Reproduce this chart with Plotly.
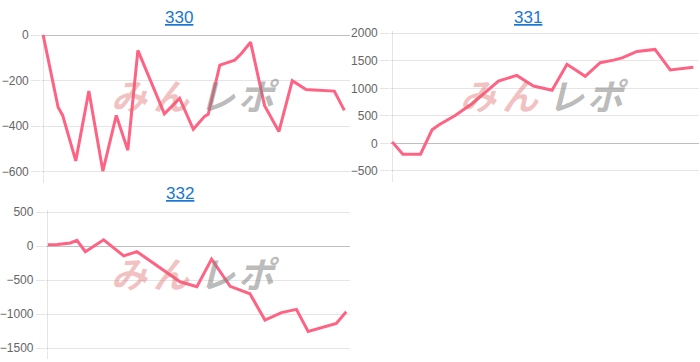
import plotly.graph_objects as go

# ---------------- data ----------------
titles = ["330", "331", "332"]

t330 = [0, 4.9, 6.4, 10.7, 15.0, 19.6, 24.0, 27.8, 31.1, 39.8, 44.8, 49.3, 53.0, 54.2,
        58.0, 62.9, 65.1, 68.1, 72.7, 77.4, 81.8, 86.3, 89.1, 95.6, 98.9]
v330 = [0, -317, -353, -553, -246, -598, -353, -506, -67, -346, -278, -414, -357, -348,
        -132, -110, -81, -31, -310, -424, -200, -239, -241, -246, -331]

t331 = [0, 3.5, 9.3, 13.1, 15.3, 20.8, 26.2, 34.9, 40.9, 46.4, 52.5, 57.4, 63.4, 68.3,
        72.7, 75.5, 80.4, 86.3, 91.3, 98.9]
v331 = [28, -195, -195, 247, 335, 512, 720, 1130, 1235, 1041, 964, 1435, 1218, 1465,
        1511, 1553, 1670, 1705, 1334, 1382]

t332 = [0, 3.1, 7.5, 9.7, 12.5, 18.6, 25.3, 29.7, 44.1, 49.7, 54.6, 60.8, 67.4, 72.4,
        77.9, 82.9, 86.8, 96.2, 99.5]
v332 = [19, 23, 47, 86, -81, 94, -143, -81, -524, -596, -191, -590, -700, -1086,
        -977, -929, -1253, -1135, -963]

y_ranges = [(-600, 0, 200), (-500, 2000, 500), (-1500, 500, 500)]

watermark_chars = ["み", "ん", "レ", "ポ"]

# ---------------- layout geometry (pixels) ----------------
W, H = 700, 362
# left px, right px, top px (ymax), bottom px (ymin)
boxes = [(41.3, 346.7, 31.0, 171.3),
         (391.3, 696.7, 29.0, 170.7),
         (46.0, 346.7, 213.0, 353.0)]
title_pos = [(178, 12.5), (528, 12.5), (178.5, 194)]
wm_offsets = [(0, 92), (350, 92), (0, 275)]
wm_x = [128, 170, 216, 258]

PAD = 2.0
LINE = "rgb(255,99,132)"
GRID = "rgba(0,0,0,0.1)"
ZERO = "rgba(0,0,0,0.25)"
FONT = "Arial, 'Liberation Sans', Helvetica, sans-serif"

fig = go.Figure()
series = [(t330, v330), (t331, v331), (t332, v332)]

layout = dict(
    width=W, height=H, margin=dict(l=0, r=0, t=0, b=0),
    paper_bgcolor="white", plot_bgcolor="white", showlegend=False,
    font=dict(family=FONT, size=12, color="#666"),
)
annotations = []

for i, ((ts, vs), (ymin, ymax, dt), (lx, rx, ty, by)) in enumerate(zip(series, y_ranges, boxes)):
    n = "" if i == 0 else str(i + 1)
    xa, ya = "x" + n, "y" + n
    fig.add_trace(go.Scatter(x=ts, y=vs, mode="lines", xaxis=xa, yaxis=ya,
                             line=dict(color=LINE, width=3), hoverinfo="skip"))
    xu = 100.0 / (rx - lx)
    ypx = (ymax - ymin) / (by - ty)
    layout["xaxis" + n] = dict(
        domain=[(lx - PAD) / W, (rx + PAD) / W],
        range=[0 - PAD * xu, 100 + PAD * xu],
        anchor=ya, tickvals=[0], showticklabels=False, showgrid=True,
        gridcolor=GRID, gridwidth=1, ticks="outside", ticklen=8, tickcolor=GRID,
        zeroline=False, showline=False, fixedrange=True,
    )
    layout["yaxis" + n] = dict(
        domain=[1 - (by + PAD) / H, 1 - (ty - PAD) / H],
        range=[ymin - PAD * ypx, ymax + PAD * ypx],
        anchor=xa, tick0=0, dtick=dt, showgrid=True, gridcolor=GRID, gridwidth=1,
        zeroline=True, zerolinecolor=ZERO, zerolinewidth=1,
        ticks="outside", ticklen=9, tickcolor=GRID, showline=False,
        tickfont=dict(family=FONT, size=12, color="#666"), fixedrange=True,
    )
    tx, tyy = title_pos[i]
    annotations.append(dict(
        text=titles[i], x=tx / W, y=1 - tyy / H, xref="paper", yref="paper",
        xanchor="center", yanchor="middle", showarrow=False,
        font=dict(family=FONT, size=17, color="#1976d2", lineposition="under"),
    ))
    ox, oy = wm_offsets[i]
    for j, ch in enumerate(watermark_chars):
        col = "rgba(225,105,105,0.42)" if j < 2 else "rgba(130,130,130,0.55)"
        annotations.append(dict(
            text="<b>" + ch + "</b>", x=(ox + wm_x[j]) / W, y=1 - oy / H,
            xref="paper", yref="paper",
            xanchor="center", yanchor="middle", showarrow=False,
            font=dict(family="'Noto Sans CJK JP'", size=36, color=col, style="italic"),
        ))

layout["annotations"] = annotations
fig.update_layout(**layout)
fig.write_html("out.html", config={"displayModeBar": False})
